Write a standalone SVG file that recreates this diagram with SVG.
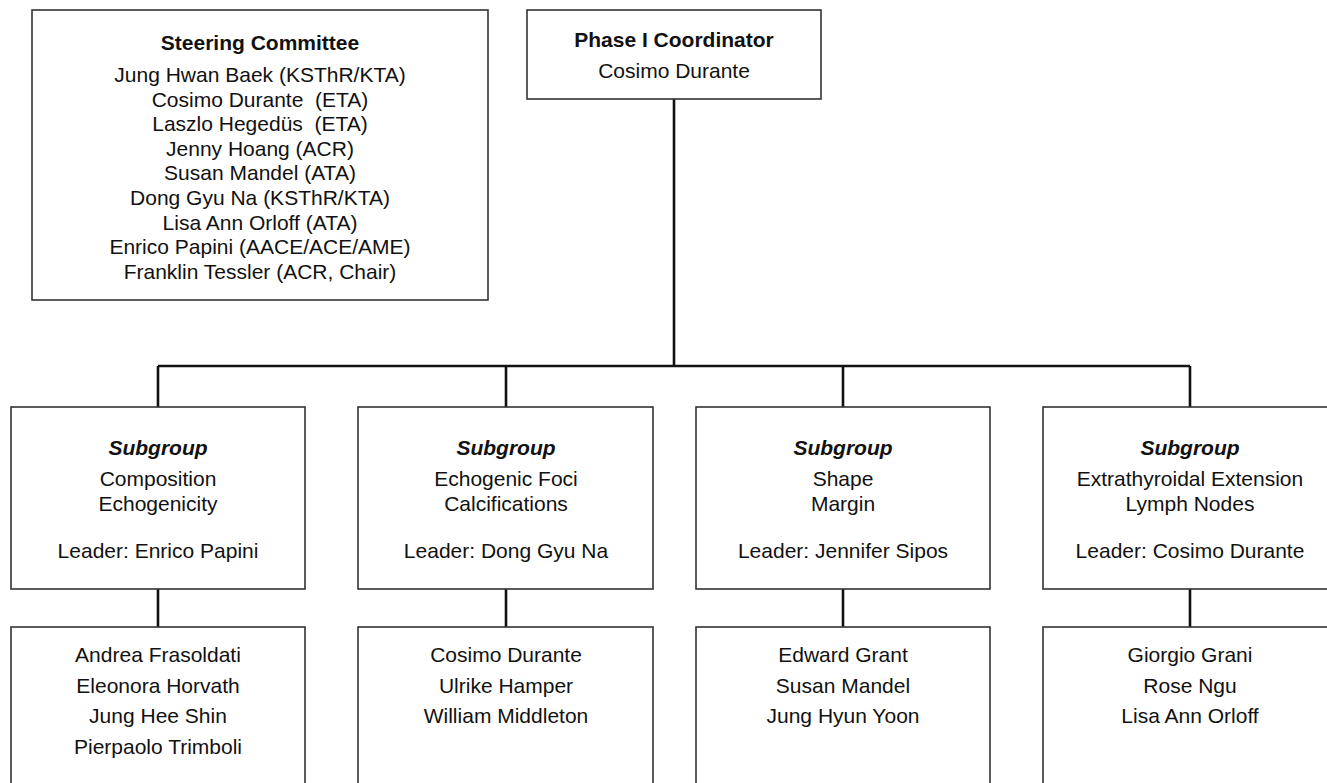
<svg xmlns="http://www.w3.org/2000/svg" width="1327" height="783" viewBox="0 0 1327 783">
<style>
.box{fill:#fff;stroke:#333;stroke-width:1.6}
.t{font-family:"Liberation Sans",Arial,sans-serif;font-size:21px;fill:#111;text-anchor:middle}
.b{font-weight:bold}
.bi{font-weight:bold;font-style:italic}
.pre{white-space:pre}
.conn{fill:none;stroke:#111;stroke-width:2.6}
</style>
<rect width="1327" height="783" fill="#fff"/>
<g id="connectors">
<path class="conn" d="M674 99V366M158 366H1190M158 366V407M506 366V407M843 366V407M1190 366V407"/>
<path class="conn" d="M158 589V627M506 589V627M843 589V627M1190 589V627"/>
</g>
<g id="steering">
<rect class="box" x="32" y="10" width="456" height="290"/>
<text class="t b" x="260" y="50">Steering Committee</text>
<text class="t" x="260" y="82">Jung Hwan Baek (KSThR/KTA)</text>
<text class="t pre" x="260" y="107" xml:space="preserve">Cosimo Durante  (ETA)</text>
<text class="t pre" x="260" y="131" xml:space="preserve">Laszlo Hegedüs  (ETA)</text>
<text class="t" x="260" y="156">Jenny Hoang (ACR)</text>
<text class="t" x="260" y="180">Susan Mandel (ATA)</text>
<text class="t" x="260" y="205">Dong Gyu Na (KSThR/KTA)</text>
<text class="t" x="260" y="230">Lisa Ann Orloff (ATA)</text>
<text class="t" x="260" y="254">Enrico Papini (AACE/ACE/AME)</text>
<text class="t" x="260" y="279">Franklin Tessler (ACR, Chair)</text>
</g>
<g id="coordinator">
<rect class="box" x="527" y="10" width="294" height="89"/>
<text class="t b" x="674" y="47">Phase I Coordinator</text>
<text class="t" x="674" y="78">Cosimo Durante</text>
</g>
<g id="subgroup1">
<rect class="box" x="11" y="407" width="294" height="182"/>
<text class="t bi" x="158" y="455">Subgroup</text>
<text class="t" x="158" y="486">Composition</text>
<text class="t" x="158" y="511">Echogenicity</text>
<text class="t" x="158" y="558">Leader: Enrico Papini</text>
</g>
<g id="subgroup2">
<rect class="box" x="358" y="407" width="295" height="182"/>
<text class="t bi" x="506" y="455">Subgroup</text>
<text class="t" x="506" y="486">Echogenic Foci</text>
<text class="t" x="506" y="511">Calcifications</text>
<text class="t" x="506" y="558">Leader: Dong Gyu Na</text>
</g>
<g id="subgroup3">
<rect class="box" x="696" y="407" width="294" height="182"/>
<text class="t bi" x="843" y="455">Subgroup</text>
<text class="t" x="843" y="486">Shape</text>
<text class="t" x="843" y="511">Margin</text>
<text class="t" x="843" y="558">Leader: Jennifer Sipos</text>
</g>
<g id="subgroup4">
<rect class="box" x="1043" y="407" width="294" height="182"/>
<text class="t bi" x="1190" y="455">Subgroup</text>
<text class="t" x="1190" y="486">Extrathyroidal Extension</text>
<text class="t" x="1190" y="511">Lymph Nodes</text>
<text class="t" x="1190" y="558">Leader: Cosimo Durante</text>
</g>
<g id="members1">
<rect class="box" x="11" y="627" width="294" height="180"/>
<text class="t" x="158" y="662">Andrea Frasoldati</text>
<text class="t" x="158" y="693">Eleonora Horvath</text>
<text class="t" x="158" y="723">Jung Hee Shin</text>
<text class="t" x="158" y="754">Pierpaolo Trimboli</text>
</g>
<g id="members2">
<rect class="box" x="358" y="627" width="295" height="180"/>
<text class="t" x="506" y="662">Cosimo Durante</text>
<text class="t" x="506" y="693">Ulrike Hamper</text>
<text class="t" x="506" y="723">William Middleton</text>
</g>
<g id="members3">
<rect class="box" x="696" y="627" width="294" height="180"/>
<text class="t" x="843" y="662">Edward Grant</text>
<text class="t" x="843" y="693">Susan Mandel</text>
<text class="t" x="843" y="723">Jung Hyun Yoon</text>
</g>
<g id="members4">
<rect class="box" x="1043" y="627" width="294" height="180"/>
<text class="t" x="1190" y="662">Giorgio Grani</text>
<text class="t" x="1190" y="693">Rose Ngu</text>
<text class="t" x="1190" y="723">Lisa Ann Orloff</text>
</g>
</svg>
